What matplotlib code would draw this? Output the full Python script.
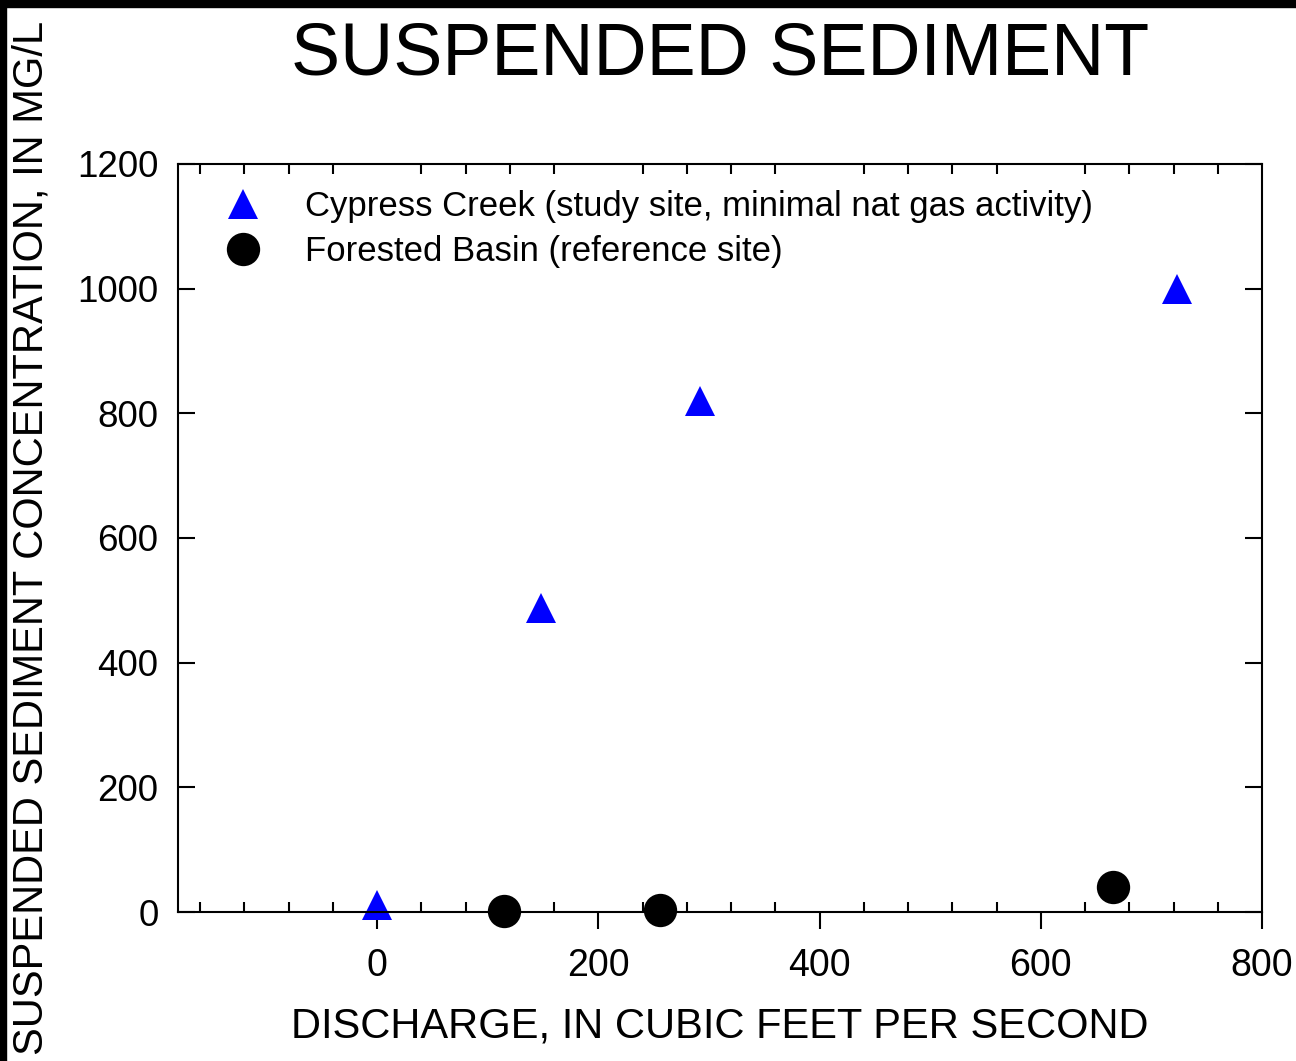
import matplotlib
matplotlib.use('Agg')
import matplotlib.pyplot as plt
from matplotlib.ticker import MultipleLocator

# Data
cypress_q = [0, 148, 292, 723]
cypress_ssc = [12, 487, 820, 1000]
forest_q = [115, 256, 665]
forest_ssc = [2, 3, 40]

plt.rcParams['font.family'] = ['Liberation Sans', 'DejaVu Sans']

fig = plt.figure(figsize=(12.96, 10.61), dpi=100)
ax = fig.add_axes([178 / 1296, 1 - 912 / 1061, (1262 - 178) / 1296, (912 - 164) / 1061])

ax.plot(cypress_q, cypress_ssc, linestyle='none', marker='^', markersize=21,
        color='#0000ff', markeredgewidth=0, clip_on=False,
        label='Cypress Creek (study site, minimal nat gas activity)')
ax.plot(forest_q, forest_ssc, linestyle='none', marker='o', markersize=24,
        color='black', markeredgewidth=0, clip_on=False,
        label='Forested Basin (reference site)')

ax.set_xlim(-180, 800)
ax.set_ylim(0, 1200)
ax.set_xticks([0, 200, 400, 600, 800])
ax.xaxis.set_minor_locator(MultipleLocator(40))
ax.yaxis.set_major_locator(MultipleLocator(200))

for s in ax.spines.values():
    s.set_linewidth(1.5)

ax.tick_params(axis='x', which='major', direction='out', length=12, width=1.5,
               top=False, bottom=True, labelsize=27, pad=14)
ax.tick_params(axis='x', which='minor', direction='in', length=7, width=1.5,
               top=True, bottom=True)
ax.tick_params(axis='y', which='major', direction='in', length=12, width=1.5,
               left=True, right=True, labelsize=26.5, pad=14)

ax.set_xlabel('DISCHARGE, IN CUBIC FEET PER SECOND', fontsize=30, labelpad=16)
ax.set_ylabel('SUSPENDED SEDIMENT CONCENTRATION, IN MG/L', fontsize=30)
ax.yaxis.set_label_coords((52 - 178) / 1084, 0.5)

fig.text(720 / 1296, 1 - 55 / 1061, 'SUSPENDED SEDIMENT', fontsize=53,
         ha='center', va='center')

ax.legend(loc='upper left', frameon=False, fontsize=25, handletextpad=0.8,
          borderaxespad=0, labelspacing=0.35, markerscale=1.0,
          bbox_to_anchor=(0.0148, 0.984))

# black frame on the top and left edges
fig.patches.append(plt.Rectangle((0, 1 - 7 / 1061), 1, 7 / 1061,
                                 transform=fig.transFigure, color='black'))
fig.patches.append(plt.Rectangle((0, 0), 6 / 1296, 1,
                                 transform=fig.transFigure, color='black'))

fig.savefig('out.png', dpi=100)
